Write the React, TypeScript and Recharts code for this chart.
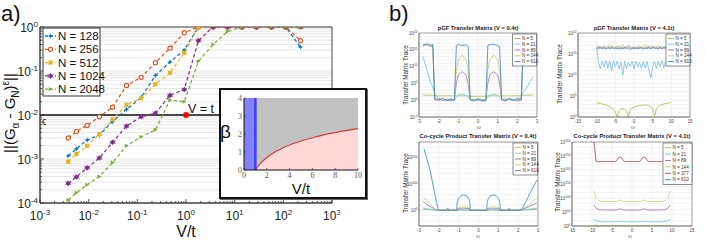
import React from "react";
import {
  LineChart,
  Line,
  XAxis,
  YAxis,
  CartesianGrid,
  ReferenceLine,
  ReferenceArea,
  ReferenceDot,
  ComposedChart,
  Area,
} from "recharts";

// ---------- a) error vs V/t ----------
const vOverT = [0.0038, 0.0056, 0.0093, 0.0166, 0.031, 0.06, 0.12, 0.235, 0.47, 0.92, 1.8, 3.6, 7.2, 14, 28, 57, 112, 225];
const err128 = [0.00117, 0.0017, 0.0027, 0.0035, 0.0071, 0.0135, 0.025, 0.079, 0.16, 0.3, 1, 1, 1, 1, 1, 1, 1, 0.35];
const err256 = [0.003, 0.0042, 0.0058, 0.0091, 0.015, 0.047, 0.072, 0.155, 0.33, 0.74, 1, 1, 1, 1, 1, 1, 1, 0.49];
const err512 = [0.00087, 0.0013, 0.002, 0.0037, 0.0079, 0.017, 0.024, 0.05, 0.091, 0.26, 1, 1, 1, 1, 1, 1, 1, 1];
const err1024 = [0.00028, 0.00039, 0.00063, 0.00105, 0.0024, 0.0056, 0.0091, 0.011, 0.028, 0.038, 0.49, 1, 1, 1, 1, 1, 1, 1];
const err2048 = [0.000117, 0.00017, 0.00026, 0.0004, 0.00083, 0.002, 0.0032, 0.0046, 0.022, 0.02, 0.166, 0.4, 0.79, 1, 1, 1, 1, 1];
const epsilon = 0.01;

// inset: beta vs V/t
const insetV = [1, 1.1, 1.25, 1.5, 2, 2.5, 3, 4, 5, 6, 7, 8, 9, 10];
const insetBeta = [0, 0.1, 0.22, 0.41, 0.69, 0.92, 1.1, 1.39, 1.61, 1.79, 1.95, 2.08, 2.2, 2.3];

// ---------- b) transfer matrix traces ----------
const tlX = [-2.8, -2.6, -2.4, -2.3, -2.2, -2.0, -1.8, -1.6, -1.4, -1.2, -1.1, -1.0, -0.8, -0.6, -0.5, -0.4, -0.2, 0, 0.2, 0.4, 0.5, 0.6, 0.8, 1.0, 1.1, 1.2, 1.4, 1.6, 1.8, 2.0, 2.2, 2.3, 2.4, 2.6, 2.8];
const tl610 = [3e16, 6e16, 2e16, 4e16, 3, 1, 4, 0.6, 2, 1, 2e16, 4e16, 2e16, 3e16, 1e16, 2, 0.6, 3, 1, 0.5, 2e16, 3e16, 4e16, 2e16, 1e16, 3, 0.6, 3, 1, 4, 1, 2e16, 4e16, 5e16, 3e16];
const tl144 = [1e16, 3e16, 2e16, 1e16, 2, 0.6, 2, 1, 3, 1, 1e9, 1e12, 3e13, 1e12, 1e9, 1, 3, 0.6, 2, 1, 1e9, 1e12, 3e13, 1e12, 1e9, 1, 4, 1, 0.5, 2, 1, 1e16, 2e16, 1e16, 2e16];
const tl89 = [2e16, 4e16, 1e16, 2e16, 1, 3, 1, 2, 0.6, 2, 1e5, 3e7, 3e8, 3e7, 1e5, 2, 1, 2, 0.5, 3, 1e5, 3e7, 3e8, 3e7, 1e5, 2, 1, 3, 1, 0.6, 2, 2e16, 3e16, 2e16, 1e16];
const tl21 = [1e13, 1e9, 1e5, 1e4, 100, 3, 1, 1, 2, 1, 10, 30, 60, 30, 10, 1, 1, 1, 1, 1, 10, 30, 60, 30, 10, 1, 1, 2, 1, 1, 10, 300, 1e3, 1e5, 1e7];
const tl5 = [40, 30, 30, 30, 20, 20, 20, 20, 20, 20, 20, 20, 20, 20, 20, 15, 15, 15, 15, 15, 20, 20, 20, 20, 20, 20, 20, 20, 20, 20, 20, 30, 30, 30, 40];

const trX = [-10, -9.5, -9, -8.5, -8, -7.5, -7, -6.5, -6, -5.5, -5, -4.5, -4, -3.5, -3, -2.5, -2, -1.5, -1, -0.5, 0, 0.5, 1, 1.5, 2, 2.5, 3, 3.5, 4, 4.5, 5, 5.5, 6, 6.5, 7, 7.5, 8, 8.5, 9, 9.5, 10];
const tr610 = [3e16, 2e16, 4e16, 2e16, 3e16, 1.5e16, 3e16, 2e16, 5e16, 2e16, 3e16, 2e16, 1.5e16, 3e16, 2e16, 4e16, 2e16, 3e16, 1e16, 3e16, 2e16, 3e16, 2e16, 4e16, 2e16, 1.5e16, 3e16, 2e16, 3e16, 2e16, 5e16, 2e16, 3e16, 1.5e16, 3e16, 2e16, 4e16, 2e16, 3e16, 2e16, 3e16];
const tr144 = [5e16, 1e17, 3e16, 6e16, 2e16, 8e16, 3e16, 1.5e17, 4e16, 6e16, 3e16, 9e16, 4e16, 5e16, 2e17, 3e16, 6e16, 4e16, 8e16, 3e16, 5e16, 3e16, 1e17, 4e16, 6e16, 3e16, 2e17, 5e16, 3e16, 7e16, 4e16, 6e16, 3e16, 1.2e17, 4e16, 5e16, 3e16, 8e16, 4e16, 6e16, 5e16];
const tr89 = [2e16, 4e16, 2.5e16, 3e16, 6e16, 2e16, 4e16, 3e16, 2e16, 5e16, 2e16, 3e16, 7e16, 2e16, 3e16, 2e16, 4e16, 1e17, 3e16, 2e16, 4e16, 2e16, 3e16, 2e16, 5e16, 3e16, 2e16, 4e16, 6e16, 2e16, 3e16, 4e16, 2e16, 3e16, 5e16, 2e16, 3e16, 4e16, 2e16, 3e16, 4e16];
const tr21 = [3e16, 1e13, 3e11, 2e13, 1e12, 3e13, 5e11, 2e13, 1e11, 3e13, 1e12, 2e13, 3e11, 1e13, 1e10, 2e13, 3e11, 1e13, 1e12, 2e13, 3e11, 2e13, 1e12, 1e13, 3e11, 2e13, 5e11, 2e13, 1e11, 2e9, 1e12, 2e13, 3e11, 2e13, 1e12, 3e13, 5e11, 2e13, 1e13, 1e15, 3e16];
const tr5 = [2500, 2000, 1600, 1300, 1000, 800, 500, 300, 160, 60, 16, 1, 25, 60, 100, 60, 30, 1, 60, 150, 250, 300, 400, 500, 630, 700, 800, 700, 500, 250, 100, 1.6, 100, 300, 630, 900, 1300, 1600, 2000, 2300, 2500];

const bl610X = [-2.75, -2.6, -2.45, -2.3, -2.2, -2.1, -2.03, -1.9, -1.6, -1.55, -1.5, -1.3, -1.09, -1.08, -1.0, -0.9, -0.75, -0.6, -0.5, -0.43, -0.42, -0.2, 0, 0.2, 0.42, 0.43, 0.5, 0.6, 0.75, 0.9, 1.0, 1.08, 1.09, 1.3, 1.5, 1.55, 1.6, 1.9, 2.03, 2.2, 2.4, 2.6, 2.8, 2.95];
const bl610 = [1e235, 1e195, 1e154, 1e100, 1e60, 1e25, 1, 1, 1, 1e8, 1, 1, 1, 1e30, 1e45, 1e55, 1e58, 1e55, 1e45, 1e30, 1, 1, 1, 1, 1, 1e30, 1e45, 1e55, 1e58, 1e55, 1e45, 1e30, 1, 1, 1, 1e8, 1, 1, 1, 1e5, 1e35, 1e65, 1e95, 1e115];
const blX = [-2.8, -2.6, -2.4, -2.2, -2.1, -1.5, -1.09, -1.08, -0.9, -0.75, -0.6, -0.43, -0.42, 0, 0.42, 0.43, 0.6, 0.75, 0.9, 1.08, 1.09, 1.5, 2.1, 2.2, 2.4, 2.6, 2.8, 2.95];
const bl144 = [1e52, 1e36, 1e22, 1e8, 1, 1, 1, 1e7, 1e12, 1e13, 1e12, 1e7, 1, 1, 1, 1e7, 1e12, 1e13, 1e12, 1e7, 1, 1, 1, 1e3, 1e14, 1e26, 1e38, 1e47];
const bl89 = [1e33, 1e22, 1e13, 1e5, 1, 1, 1, 1e4, 1e7, 1e8, 1e7, 1e4, 1, 1, 1, 1e4, 1e7, 1e8, 1e7, 1e4, 1, 1, 1, 1e2, 1e9, 1e16, 1e23, 1e28];
const bl21 = [1e9, 1e6, 1e4, 100, 1, 1, 1, 10, 100, 100, 100, 10, 1, 1, 1, 10, 100, 100, 100, 10, 1, 1, 1, 10, 1e3, 1e5, 1e7, 1e8];
const bl5 = [1e3, 100, 50, 10, 5, 5, 5, 5, 5, 5, 5, 5, 5, 5, 5, 5, 5, 5, 5, 5, 5, 5, 5, 10, 30, 100, 500, 1e3];

const brX = [-9.5, -9, -8.5, -8, -7, -6, -5, -4, -3.5, -3, -2.5, -2, -1, 0, 1, 2, 2.5, 3, 3.5, 4, 5, 6, 7, 8, 8.5, 9, 9.5];
const br377 = [1e300, 1e231, 1e230, 1e230, 1e230, 1e230, 1e230, 1e230, 1e242, 1e246, 1e242, 1e230, 1e230, 1e230, 1e230, 1e230, 1e242, 1e246, 1e242, 1e230, 1e230, 1e230, 1e230, 1e230, 1e230, 1e231, 1e232];
const br144 = [1e126, 1e100, 1e92, 1e89, 1e87, 1e87, 1e87, 1e87, 1e90, 1e93, 1e90, 1e87, 1e87, 1e87, 1e87, 1e87, 1e90, 1e93, 1e90, 1e87, 1e87, 1e87, 1e87, 1e89, 1e92, 1e100, 1e126];
const br89 = [1e75, 1e64, 1e60, 1e58, 1e57, 1e57, 1e57, 1e57, 1e59, 1e61, 1e59, 1e57, 1e57, 1e57, 1e57, 1e57, 1e59, 1e61, 1e59, 1e57, 1e57, 1e57, 1e57, 1e58, 1e60, 1e64, 1e75];
const br21 = [1e24, 1e19, 1e17, 1e16, 1e15, 1e15, 1e15, 1e15, 1e16, 1e16, 1e16, 1e15, 1e15, 1e15, 1e15, 1e15, 1e16, 1e16, 1e16, 1e15, 1e15, 1e15, 1e15, 1e16, 1e17, 1e19, 1e24];
const br5 = [1e3, 100, 100, 10, 10, 10, 10, 10, 10, 10, 10, 10, 10, 10, 10, 10, 10, 10, 10, 10, 10, 10, 10, 10, 100, 100, 1e3];

const C5 = "#9dbb48";
const C21 = "#74bde6";
const C89 = "#a566c0";
const C144 = "#bcd36a";
const C377 = "#b4424f";
const C610 = "#3f7fbf";

const mainRows = vOverT.map((v, i) => ({
  v,
  n128: err128[i],
  n256: err256[i],
  n512: err512[i],
  n1024: err1024[i],
  n2048: err2048[i],
}));
const insetRows = insetV.map((v, i) => ({ v, beta: insetBeta[i] }));

const mainSeries = [
  { key: "n128", label: "N = 128", color: "#0072BD", mark: "dot" },
  { key: "n256", label: "N = 256", color: "#D95319", mark: "circle" },
  { key: "n512", label: "N = 512", color: "#EDB120", mark: "square" },
  { key: "n1024", label: "N = 1024", color: "#7E2F8E", mark: "star" },
  { key: "n2048", label: "N = 2048", color: "#77AC30", mark: "tri" },
];

// log ticks (majors + minors)
const logTicks = (lo: number, hi: number) => {
  const out: number[] = [];
  for (let e = lo; e < hi; e++) for (let m = 1; m <= 9; m++) out.push(m * Math.pow(10, e));
  out.push(Math.pow(10, hi));
  return out;
};
const isMajor = (v: number) => {
  const l = Math.log10(v);
  return Math.abs(l - Math.round(l)) < 1e-6;
};
const decades = (lo: number, hi: number, step: number) => {
  const out: number[] = [];
  for (let e = lo; e <= hi; e += step) out.push(Math.pow(10, e));
  return out;
};

function Marker({ mark, x, y, color }: any) {
  if (x == null || y == null) return <g />;
  if (mark === "circle") return <circle cx={x} cy={y} r={2.1} fill="white" stroke={color} strokeWidth={1.1} />;
  if (mark === "square") return <rect x={x - 2.1} y={y - 2.1} width={4.2} height={4.2} fill={color} />;
  if (mark === "star")
    return (
      <g>
        <path d={`M${x - 2.6},${y}L${x},${y - 2.8}L${x + 2.6},${y}L${x},${y + 2.8}Z`} fill={color} />
        <path d={`M${x - 3},${y - 1.5}L${x + 3},${y + 1.5}M${x - 3},${y + 1.5}L${x + 3},${y - 1.5}`} stroke={color} strokeWidth={0.7} />
      </g>
    );
  if (mark === "tri") return <path d={`M${x - 1.8},${y - 2.1}L${x + 2.3},${y}L${x - 1.8},${y + 2.1}Z`} fill={color} />;
  return (
    <g>
      <circle cx={x} cy={y} r={1.3} fill={color} />
      <path d={`M${x - 2.4},${y}H${x + 2.4}M${x},${y - 2.4}V${y + 2.4}`} stroke={color} strokeWidth={0.7} />
    </g>
  );
}

const MainXTick = (p: any) => {
  const v = p.payload.value;
  const major = isMajor(v);
  return (
    <g>
      <line x1={p.x} x2={p.x} y1={p.y} y2={p.y - (major ? 4 : 2)} stroke="#333" strokeWidth={0.8} />
      {major && (
        <text x={p.x} y={p.y + 17} textAnchor="middle" fontSize={12} fill="#222">
          10<tspan dy={-5} fontSize={8}>{Math.round(Math.log10(v))}</tspan>
        </text>
      )}
    </g>
  );
};

const MainYTick = (p: any) => {
  const v = p.payload.value;
  const major = isMajor(v);
  return (
    <g>
      <line x1={p.x} x2={p.x + (major ? 4 : 2)} y1={p.y} y2={p.y} stroke="#333" strokeWidth={0.8} />
      {major && (
        <text x={p.x - 2} y={p.y + 5} textAnchor="end" fontSize={12} fill="#222">
          10<tspan dy={-5} fontSize={8}>{Math.round(Math.log10(v))}</tspan>
        </text>
      )}
    </g>
  );
};

const InsetXTick = (p: any) => (
  <g>
    <line x1={p.x} x2={p.x} y1={p.y} y2={p.y - 2} stroke="#222" strokeWidth={0.6} />
    <text x={p.x} y={p.y + 8} textAnchor="middle" fontSize={8} fontFamily="'Liberation Serif', serif" fill="#555">
      {p.payload.value}
    </text>
  </g>
);
const InsetYTick = (p: any) => (
  <g>
    <line x1={p.x} x2={p.x + 2} y1={p.y} y2={p.y} stroke="#222" strokeWidth={0.6} />
    <text x={p.x - 2} y={p.y + 3} textAnchor="end" fontSize={8} fontFamily="'Liberation Serif', serif" fill="#555">
      {p.payload.value}
    </text>
  </g>
);

const BXTick = (p: any) => (
  <text x={p.x} y={p.y + 5.5} textAnchor="middle" fontSize={4.5} fill="#444">
    {p.payload.value}
  </text>
);
const BYTick = (p: any) => (
  <text x={p.x - 1.5} y={p.y + 1.6} textAnchor="end" fontSize={4.5} fill="#444">
    10<tspan dy={-1.8} fontSize={3.2}>{Math.round(Math.log10(p.payload.value))}</tspan>
  </text>
);

type BSeries = { name: string; color: string; xs: number[]; ys: number[] };

function BPanel(props: {
  left: number;
  top: number;
  width: number;
  yWidth: number;
  xDomain: [number, number];
  xTicks: number[];
  yDomain: [number, number];
  yTicks: number[];
  yGrid: number[];
  series: BSeries[];
}) {
  const { left, top, width, yWidth, xDomain, xTicks, yDomain, yTicks, yGrid, series } = props;
  return (
    <div style={{ position: "absolute", left, top }}>
      <LineChart width={width} height={112} margin={{ top: 13, right: 3, left: 0, bottom: 5 }}>
        <CartesianGrid stroke="#e6e6e6" strokeWidth={0.5} horizontalValues={yGrid} verticalValues={xTicks} />
        <XAxis
          dataKey="x"
          type="number"
          domain={xDomain}
          ticks={xTicks}
          interval={0}
          allowDataOverflow
          height={10}
          tickSize={0}
          tickMargin={0}
          tick={(p: any) => <BXTick {...p} />}
          stroke="#666"
          strokeWidth={0.6}
        />
        <YAxis
          type="number"
          scale="log"
          domain={yDomain}
          ticks={yTicks}
          interval={0}
          allowDataOverflow
          width={yWidth}
          tickSize={0}
          tickMargin={0}
          tick={(p: any) => <BYTick {...p} />}
          stroke="#666"
          strokeWidth={0.6}
        />
        <ReferenceArea x1={xDomain[0]} x2={xDomain[1]} y1={yDomain[0]} y2={yDomain[1]} fill="none" stroke="#666" strokeWidth={0.6} />
        {series.map((s) => (
          <Line
            key={s.name}
            data={s.xs.map((x, i) => ({ x, y: s.ys[i] }))}
            dataKey="y"
            type="linear"
            stroke={s.color}
            strokeWidth={0.8}
            dot={false}
            isAnimationActive={false}
          />
        ))}
      </LineChart>
    </div>
  );
}

function BLegend({ x, y, w, rowH, items }: { x: number; y: number; w: number; rowH: number; items: [string, string][] }) {
  return (
    <g>
      <rect x={x} y={y} width={w} height={rowH * items.length + 3} fill="white" stroke="#444" strokeWidth={0.6} />
      {items.map(([label, color], i) => {
        const cy = y + 1.5 + rowH * (i + 0.5);
        return (
          <g key={label}>
            <line x1={x + 2} x2={x + 8} y1={cy} y2={cy} stroke={color} strokeWidth={0.9} />
            <text x={x + 9.5} y={cy + 1.6} fontSize={4.6} fill="#333">
              {label}
            </text>
          </g>
        );
      })}
    </g>
  );
}

const pmTicks3 = [-3, -2, -1, 0, 1, 2, 3];
const pmTicks15 = [-15, -10, -5, 0, 5, 10, 15];

export default function App() {
  return (
    <div
      style={{
        position: "absolute",
        left: 0,
        top: 0,
        width: 706,
        height: 240,
        background: "#fff",
        overflow: "hidden",
        fontFamily: "'Liberation Sans', Arial, sans-serif",
      }}
    >
      {/* a) main plot */}
      <div style={{ position: "absolute", left: 0, top: 0 }}>
        <LineChart width={340} height={240} data={mainRows} margin={{ top: 27, right: 8, left: 0, bottom: 12 }}>
          <CartesianGrid stroke="#e2e2e2" strokeWidth={0.8} vertical={false} horizontalValues={logTicks(-4, 0)} />
          <XAxis
            dataKey="v"
            type="number"
            scale="log"
            domain={[1e-3, 1e3]}
            ticks={logTicks(-3, 3)}
            interval={0}
            allowDataOverflow
            height={25}
            tickSize={0}
            tickMargin={0}
            tick={(p: any) => <MainXTick {...p} />}
            stroke="#444"
          />
          <YAxis
            type="number"
            scale="log"
            domain={[1e-4, 1]}
            ticks={logTicks(-4, 0)}
            interval={0}
            allowDataOverflow
            width={40}
            tickSize={0}
            tickMargin={0}
            tick={(p: any) => <MainYTick {...p} />}
            stroke="#444"
          />
          <ReferenceArea x1={1e-3} x2={1e3} y1={1e-4} y2={1} fill="none" stroke="#444" strokeWidth={1} />
          <ReferenceLine y={epsilon} stroke="#111" strokeWidth={1.6} />
          {mainSeries.map((s) => (
            <Line
              key={s.key}
              dataKey={s.key}
              type="linear"
              stroke={s.color}
              strokeWidth={1.2}
              strokeDasharray="3.5 2.5"
              isAnimationActive={false}
              dot={(p: any) => <Marker key={`${s.key}-${p.index}`} mark={s.mark} x={p.cx} y={p.cy} color={s.color} />}
            />
          ))}
          <ReferenceDot x={1} y={epsilon} r={3} fill="#ff0000" stroke="none" />
        </LineChart>
      </div>

      {/* a) inset */}
      <div
        style={{
          position: "absolute",
          left: 219,
          top: 88,
          width: 148,
          height: 111,
          boxSizing: "border-box",
          border: "2px solid #111",
          boxShadow: "1px 1px 0 #666",
          background: "#fff",
        }}
      >
        <ComposedChart width={144} height={107} data={insetRows} margin={{ top: 8, right: 7, left: 0, bottom: 15 }}>
          <XAxis
            dataKey="v"
            type="number"
            domain={[0, 10]}
            ticks={[0, 2, 4, 6, 8, 10]}
            interval={0}
            height={12}
            tickSize={0}
            tickMargin={0}
            tick={(p: any) => <InsetXTick {...p} />}
            stroke="#111"
          />
          <YAxis
            type="number"
            domain={[0, 4]}
            ticks={[0, 1, 2, 3, 4]}
            interval={0}
            width={23}
            tickSize={0}
            tickMargin={0}
            tick={(p: any) => <InsetYTick {...p} />}
            stroke="#111"
          />
          <ReferenceArea x1={0} x2={1} y1={0} y2={4} fill="#8282ff" fillOpacity={1} stroke="none" />
          <Area dataKey={(d: any) => [d.beta, 4]} type="monotone" fill="#c2c2c2" fillOpacity={1} stroke="none" isAnimationActive={false} />
          <Area dataKey="beta" type="monotone" fill="#ffd8d8" fillOpacity={1} stroke="#d83838" strokeWidth={1.2} isAnimationActive={false} />
          <ReferenceLine x={1} stroke="#3c3cff" strokeWidth={2.5} />
        </ComposedChart>
      </div>

      {/* b) panels */}
      <BPanel
        left={400}
        top={20}
        width={140}
        yWidth={19}
        xDomain={[-3, 3]}
        xTicks={pmTicks3}
        yDomain={[1e-5, 1e20]}
        yTicks={decades(-5, 20, 5)}
        yGrid={decades(-5, 20, 1)}
        series={[
          { name: "5", color: C5, xs: tlX, ys: tl5 },
          { name: "21", color: C21, xs: tlX, ys: tl21 },
          { name: "89", color: C89, xs: tlX, ys: tl89 },
          { name: "144", color: C144, xs: tlX, ys: tl144 },
          { name: "610", color: C610, xs: tlX, ys: tl610 },
        ]}
      />
      <BPanel
        left={560}
        top={20}
        width={133}
        yWidth={18}
        xDomain={[-15, 15]}
        xTicks={pmTicks15}
        yDomain={[1, 1e20]}
        yTicks={decades(0, 20, 5)}
        yGrid={decades(0, 20, 1)}
        series={[
          { name: "5", color: C5, xs: trX, ys: tr5 },
          { name: "21", color: C21, xs: trX, ys: tr21 },
          { name: "89", color: C89, xs: trX, ys: tr89 },
          { name: "144", color: C144, xs: trX, ys: tr144 },
          { name: "610", color: C610, xs: trX, ys: tr610 },
        ]}
      />
      <BPanel
        left={400}
        top={129}
        width={141}
        yWidth={19}
        xDomain={[-3, 3]}
        xTicks={pmTicks3}
        yDomain={[1e-60, 1e260]}
        yTicks={[1, 1e100, 1e200]}
        yGrid={decades(-60, 260, 20)}
        series={[
          { name: "5", color: C5, xs: blX, ys: bl5 },
          { name: "21", color: C21, xs: blX, ys: bl21 },
          { name: "89", color: C89, xs: blX, ys: bl89 },
          { name: "144", color: C144, xs: blX, ys: bl144 },
          { name: "610", color: C610, xs: bl610X, ys: bl610 },
        ]}
      />
      <BPanel
        left={555}
        top={129}
        width={140}
        yWidth={17}
        xDomain={[-15, 15]}
        xTicks={pmTicks15}
        yDomain={[1, 1e300]}
        yTicks={decades(0, 300, 50)}
        yGrid={decades(0, 300, 20)}
        series={[
          { name: "5", color: C5, xs: brX, ys: br5 },
          { name: "21", color: C21, xs: brX, ys: br21 },
          { name: "89", color: C89, xs: brX, ys: br89 },
          { name: "144", color: C144, xs: brX, ys: br144 },
          { name: "377", color: C377, xs: brX, ys: br377 },
        ]}
      />

      {/* text overlay */}
      <svg width={706} height={240} style={{ position: "absolute", left: 0, top: 0, pointerEvents: "none" }}>
        <text x={1} y={21} fontSize={22} fill="#111">a)</text>
        <text x={389} y={21} fontSize={22} fill="#111">b)</text>

        <text transform="translate(15,113) rotate(-90)" textAnchor="middle" fontSize={15} fill="#111">
          ||(G<tspan dy={4} fontSize={10}>α</tspan>
          <tspan dy={-4}> - G</tspan>
          <tspan dy={4} fontSize={10}>N</tspan>
          <tspan dy={-4}>)</tspan>
          <tspan dy={-6} fontSize={10}>ε</tspan>
          <tspan dy={6}>||</tspan>
        </text>
        <text x={186} y={237} textAnchor="middle" fontSize={16} fill="#111">V/t</text>
        <text x={42} y={125} fontSize={10} fill="#111">ϵ</text>
        <text x={188} y={113} fontSize={12.5} fill="#111">V = t</text>

        <text x={220} y={138} fontSize={19} fill="#111">β</text>
        <text x={301} y={194} textAnchor="middle" fontSize={15} fill="#111">V/t</text>

        {/* main legend */}
        <rect x={43} y={28} width={57} height={68} fill="white" stroke="#333" strokeWidth={1} />
        {mainSeries.map((s, i) => {
          const cy = 36 + i * 13.3;
          return (
            <g key={s.key}>
              <line x1={45} x2={56} y1={cy} y2={cy} stroke={s.color} strokeWidth={1.3} strokeDasharray="3 2" />
              <Marker mark={s.mark} x={50.5} y={cy} color={s.color} />
              <text x={58} y={cy + 4} fontSize={11.5} fill="#111">{s.label}</text>
            </g>
          );
        })}

        {/* b titles */}
        <text x={478} y={30} textAnchor="middle" fontSize={5.8} fontWeight="bold" fill="#222">pGF Transfer Matrix (V = 0.4t)</text>
        <text x={634} y={30} textAnchor="middle" fontSize={5.8} fontWeight="bold" fill="#222">pGF Transfer Matrix (V = 4.1t)</text>
        <text x={478} y={138} textAnchor="middle" fontSize={5.8} fontWeight="bold" fill="#222">Co-cycle Product Transfer Matrix (V = 0.4t)</text>
        <text x={632} y={138} textAnchor="middle" fontSize={5.8} fontWeight="bold" fill="#222">Co-cycle Product Transfer Matrix (V = 4.1t)</text>

        <text transform="translate(407.5,75) rotate(-90)" textAnchor="middle" fontSize={6.3} fill="#333">Transfer Matrix Trace</text>
        <text transform="translate(562,74) rotate(-90)" textAnchor="middle" fontSize={6.3} fill="#333">Transfer Matrix Trace</text>
        <text transform="translate(407.5,183) rotate(-90)" textAnchor="middle" fontSize={6.3} fill="#333">Transfer Matrix Trace</text>
        <text transform="translate(560,182) rotate(-90)" textAnchor="middle" fontSize={6.3} fill="#333">Transfer Matrix Trace</text>

        <text x={479} y={129} textAnchor="middle" fontSize={5} fill="#555">ω</text>
        <text x={633} y={129} textAnchor="middle" fontSize={5} fill="#555">ω</text>
        <text x={478} y={238} textAnchor="middle" fontSize={5} fill="#555">ω</text>
        <text x={630} y={238} textAnchor="middle" fontSize={5} fill="#555">ω</text>

        <BLegend x={512.5} y={34} w={24} rowH={5.8} items={[["N = 5", C5], ["N = 21", C21], ["N = 89", C89], ["N = 144", C144], ["N = 610", C610]]} />
        <BLegend x={666} y={34} w={24} rowH={5.8} items={[["N = 5", C5], ["N = 21", C21], ["N = 89", C89], ["N = 144", C144], ["N = 610", C610]]} />
        <BLegend x={513} y={143} w={24.5} rowH={5.8} items={[["N = 5", C5], ["N = 21", C21], ["N = 89", C89], ["N = 144", C144], ["N = 610", C610]]} />
        <BLegend x={663} y={143} w={29} rowH={6.4} items={[["N = 5", C5], ["N = 21", C21], ["N = 89", C89], ["N = 144", C144], ["N = 377", C377], ["N = 610", C610]]} />
      </svg>
    </div>
  );
}
